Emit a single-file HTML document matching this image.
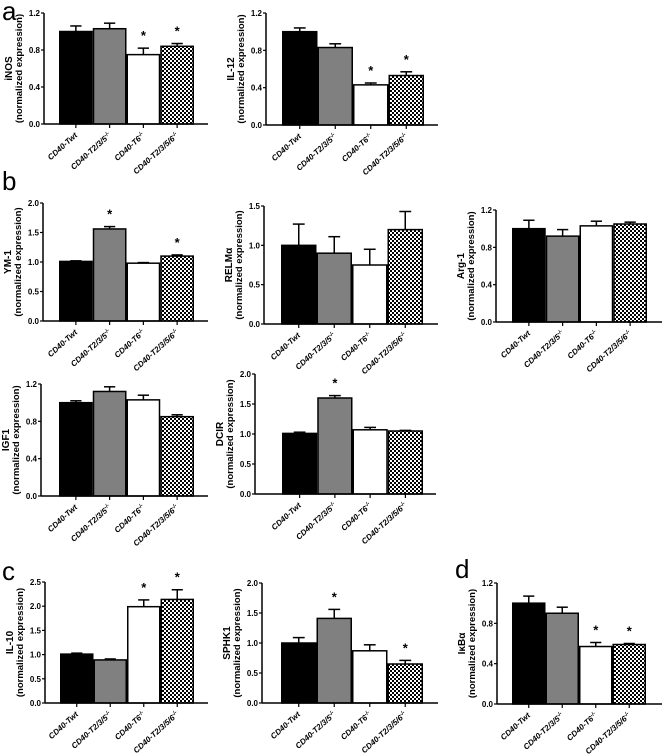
<!DOCTYPE html>
<html><head><meta charset="utf-8"><style>
html,body{margin:0;padding:0;background:#fff;}
svg{display:block;font-family:"Liberation Sans",Arial,sans-serif;}
</style></head><body>
<svg id="fig" width="664" height="756" viewBox="0 0 664 756">
<defs>
<pattern id="checker" width="4" height="4" patternUnits="userSpaceOnUse">
<rect width="4" height="4" fill="#fff"/><rect width="2" height="2" fill="#000"/><rect x="2" y="2" width="2" height="2" fill="#000"/>
</pattern>
</defs>
<text x="2" y="20" font-size="26">a</text>
<text x="2" y="190" font-size="26">b</text>
<text x="2" y="580" font-size="26">c</text>
<text x="455" y="578" font-size="26">d</text>
</svg>
<script>
const categories = ["CD40-Twt","CD40-T2/3/5\u207B/\u207B","CD40-T6\u207B/\u207B","CD40-T2/3/5/6\u207B/\u207B"];
const genes = ["iNOS","IL-12","YM-1","RELM\u03B1","Arg-1","IGF1","DCIR","IL-10","SPHK1","I\u03BAB\u03B1"];
const inosVals = [1.0,1.03,0.75,0.84];   const inosErr = [0.06,0.06,0.07,0.03];
const il12Vals = [1.0,0.83,0.43,0.53];   const il12Err = [0.04,0.04,0.02,0.04];
const ym1Vals = [1.01,1.56,0.98,1.1];    const ym1Err = [0.01,0.04,0.01,0.02];
const relmVals = [1.0,0.9,0.75,1.2];     const relmErr = [0.27,0.21,0.2,0.23];
const arg1Vals = [1.0,0.92,1.03,1.05];   const arg1Err = [0.09,0.07,0.05,0.02];
const igf1Vals = [1.0,1.12,1.03,0.85];   const igf1Err = [0.02,0.05,0.05,0.02];
const dcirVals = [1.01,1.6,1.07,1.05];   const dcirErr = [0.02,0.04,0.04,0.01];
const il10Vals = [1.01,0.89,1.99,2.14];  const il10Err = [0.02,0.02,0.14,0.2];
const sphk1Vals = [1.0,1.41,0.87,0.65];  const sphk1Err = [0.09,0.15,0.1,0.06];
const ikbaVals = [1.0,0.9,0.57,0.59];    const ikbaErr = [0.07,0.06,0.04,0.01];
const inosStars=[0,0,1,1], il12Stars=[0,0,1,1], ym1Stars=[0,1,0,1], relmStars=[0,0,0,0], arg1Stars=[0,0,0,0];
const igf1Stars=[0,0,0,0], dcirStars=[0,1,0,0], il10Stars=[0,0,1,1], sphk1Stars=[0,1,0,1], ikbaStars=[0,0,1,1];
const ticks12 = ["0.0","0.4","0.8","1.2"];
const ticks15 = ["0.0","0.5","1.0","1.5"];
const ticks20 = ["0.0","0.5","1.0","1.5","2.0"];
const ticks25 = ["0.0","0.5","1.0","1.5","2.0","2.5"];

// layout (not data): axisX, topY, zeroY, barStart, barEnd, axisEnd
const layouts = [
 [44,13,124,59,194,208],[266,13,125,282,424,438],
 [43,203,321,59,194,208],[264,206,324,281,423,438],[496,210,322,512,647,662],
 [41,384,496,59,194,208],[255,374,494,282,423,436],
 [45,582,703,60,194,208],[262,583,703,281,423,438],[497,583,704,512,646,662]
];
const panelVals=[inosVals,il12Vals,ym1Vals,relmVals,arg1Vals,igf1Vals,dcirVals,il10Vals,sphk1Vals,ikbaVals];
const panelErr=[inosErr,il12Err,ym1Err,relmErr,arg1Err,igf1Err,dcirErr,il10Err,sphk1Err,ikbaErr];
const panelStars=[inosStars,il12Stars,ym1Stars,relmStars,arg1Stars,igf1Stars,dcirStars,il10Stars,sphk1Stars,ikbaStars];
const panelTicks=[ticks12,ticks12,ticks20,ticks15,ticks12,ticks12,ticks20,ticks25,ticks20,ticks12];
const fills=["#000","#808080","#fff","url(#checker)"];

const svg=document.getElementById('fig');
const NS="http://www.w3.org/2000/svg";
function mk(tag,attrs,parent){const e=document.createElementNS(NS,tag);for(const k in attrs)e.setAttribute(k,attrs[k]);(parent||svg).appendChild(e);return e;}

panelVals.forEach((vals,p)=>{
  const [ax,top,zero,bs,be,aend]=layouts[p];
  const tl=panelTicks[p];
  const ymax=parseFloat(tl[tl.length-1]);
  const y=v=>zero-(v/ymax)*(zero-top);
  const bw=(be-bs)/vals.length;
  const x=i=>bs+i*bw;
  const g=mk('g',{});
  
  
  vals.forEach((v,i)=>{
    const err=panelErr[p][i];
    const cx=x(i)+bw/2;
    const el=mk('line',{x1:cx,x2:cx,y1:y(v),y2:y(v+err),stroke:'#000','stroke-width':1.5},g);
    
    
    const cap=mk('line',{x1:cx-bw/6,x2:cx+bw/6,y1:y(v+err),y2:y(v+err),stroke:'#000','stroke-width':1.5},g);
    
    
    const r=mk('rect',{x:x(i)+0.75,y:y(v),width:bw-1.5,height:zero-y(v),fill:fills[i],stroke:'#000','stroke-width':1.5},g);
    
    
    if(panelStars[p][i]){
      const s=mk('text',{x:cx,y:y(v+err)-8,'text-anchor':'middle','font-size':13,'font-weight':'bold'},g);
      s.textContent='*';
      
      
    }
    const tk=mk('line',{x1:cx,x2:cx,y1:zero,y2:zero+4,stroke:'#000','stroke-width':1.2},g);
    
    
    const lx=cx+2, ly=zero+12;
    const lb=mk('text',{x:lx,y:ly,'text-anchor':'end','font-size':8,'font-style':'italic','font-weight':'bold',transform:`rotate(-42 ${lx} ${ly})`},g);
    lb.innerHTML=categories[i].replace(/(\u207B\/\u207B)/,'<tspan font-size="5.5" dy="-3">-/-</tspan>');
    
    
  });
  const ya=mk('line',{x1:ax,x2:ax,y1:top,y2:zero,stroke:'#000','stroke-width':1.5},g);
  
  
  const xa=mk('line',{x1:ax,x2:aend,y1:zero,y2:zero,stroke:'#000','stroke-width':1.5},g);
  
  
  tl.forEach(t=>{
    const ty=y(parseFloat(t));
    const tk=mk('line',{x1:ax-3,x2:ax,y1:ty,y2:ty,stroke:'#000','stroke-width':1.2},g);
    
    
    const tt=mk('text',{x:ax-4,y:ty+3,'text-anchor':'end','font-size':8,'font-weight':'bold'},g);
    tt.textContent=t;
    
    
  });
  const mid=(top+zero)/2;
  const t1=mk('text',{x:ax-32,y:mid,'text-anchor':'middle','font-size':10,'font-weight':'bold',transform:`rotate(-90 ${ax-32} ${mid})`},g);
  t1.textContent=genes[p];
  
  
  const t2=mk('text',{x:ax-22,y:mid,'text-anchor':'middle','font-size':9.5,'font-weight':'bold',transform:`rotate(-90 ${ax-22} ${mid})`},g);
  t2.textContent='(normalized expression)';
  
  
});
</script>
</body></html>
